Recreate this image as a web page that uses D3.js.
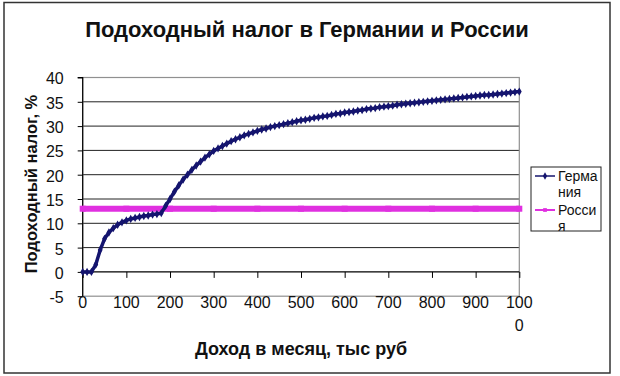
<!DOCTYPE html>
<html><head><meta charset="utf-8">
<script src="https://cdn.jsdelivr.net/npm/d3@7"></script>
<style>
body{margin:0;background:#fff;}
svg{display:block;font-family:"Liberation Sans",Arial,sans-serif;}
</style></head>
<body>
<svg id="chart" width="620" height="376"></svg>
<script>
const title = "Подоходный налог в Германии и России";
const xTitle = "Доход в месяц, тыс руб";
const yTitle = "Подоходный налог, %";
const seriesNames = [["Герма","ния"],["Росси","я"]];
const xTicks = [0,100,200,300,400,500,600,700,800,900,1000];
const yTicks = [-5,0,5,10,15,20,25,30,35,40];
// Income, thousand rubles per month
const income = [0,10,20,30,40,50,60,70,80,90,100,110,120,130,140,150,160,170,180,190,200,
 210,220,230,240,250,260,270,280,290,300,310,320,330,340,350,360,370,380,390,400,
 410,420,430,440,450,460,470,480,490,500,510,520,530,540,550,560,570,580,590,600,
 610,620,630,640,650,660,670,680,690,700,710,720,730,740,750,760,770,780,790,800,
 810,820,830,840,850,860,870,880,890,900,910,920,930,940,950,960,970,980,990,1000];
// Germany, tax %
const germany = [0,0,0,1.5,4.5,6.8,8.1,9.0,9.7,10.2,10.6,10.9,11.1,11.3,11.5,11.6,11.8,11.9,12.1,13.6,15.0,
 16.5,17.8,19.0,20.0,21.0,21.9,22.7,23.5,24.2,24.9,25.4,25.9,26.4,26.9,27.3,27.7,28.1,28.4,28.7,29.0,
 29.3,29.5,29.8,30.0,30.2,30.4,30.6,30.8,31.0,31.2,31.3,31.5,31.7,31.8,32.0,32.1,32.3,32.5,32.6,32.8,
 32.9,33.0,33.2,33.3,33.5,33.6,33.7,33.9,34.0,34.1,34.2,34.4,34.5,34.6,34.7,34.8,34.9,35.0,35.1,35.2,
 35.3,35.4,35.5,35.6,35.7,35.8,35.9,36.0,36.1,36.2,36.3,36.4,36.4,36.5,36.6,36.7,36.8,36.9,37.0,37.1];
// Russia, flat tax %
const russiaIncome = [0,100,200,300,400,500,600,700,800,900,1000];
const russia = [13,13,13,13,13,13,13,13,13,13,13];

const svg = d3.select("#chart");
const colG = "#14146e", colR = "#e030e0";

// outer border
svg.append("rect").attr("x",4).attr("y",2.5).attr("width",606).attr("height",370.5)
  .attr("fill","none").attr("stroke","#333").attr("stroke-width",1.5);

const x = d3.scaleLinear().domain([0,1000]).range([82.7,519.3]);
const y = d3.scaleLinear().domain([-5,40]).range([296.2,77.5]);

// gridlines
svg.append("g").selectAll("line").data(yTicks.filter(v=>v>0 && v<40)).join("line")
  .attr("x1",x(0)).attr("x2",x(1000)).attr("y1",d=>y(d)).attr("y2",d=>y(d))
  .attr("stroke","#222").attr("stroke-width",1);
// plot area border (gray)
svg.append("rect").attr("x",x(0)).attr("y",y(40)).attr("width",x(1000)-x(0)).attr("height",y(-5)-y(40))
  .attr("fill","none").attr("stroke","#909090").attr("stroke-width",1.2);

// y axis
const yAxis = d3.axisLeft(y).tickValues(yTicks).tickSize(5).tickPadding(14).tickFormat(d=>d);
const gy = svg.append("g").attr("transform",`translate(${x(0)},0)`).call(yAxis);
gy.select(".domain").attr("stroke","#000").attr("stroke-width",1.2).attr("d",`M-5,${y(40)}H0V${y(-5)}`);
gy.selectAll(".tick line").attr("stroke","#000");
gy.selectAll("text").attr("font-size",16).attr("fill","#111").attr("font-family","Liberation Sans, Arial, sans-serif").attr("dy","0.4em");

// x axis at y=0
const xAxis = d3.axisBottom(x).tickValues(xTicks).tickSize(6).tickFormat("");
const gx = svg.append("g").attr("transform",`translate(0,${y(0)})`).call(xAxis);
gx.select(".domain").attr("stroke","#000").attr("stroke-width",1.2).attr("d",`M${x(0)},0H${x(1000)}`);
gx.selectAll(".tick line").attr("stroke","#000");
// x tick labels at the bottom
const xl = svg.append("g").attr("font-size",16).attr("fill","#111").attr("text-anchor","middle");
xTicks.forEach(v=>{
  const s = String(v);
  if (s.length>3){
    xl.append("text").attr("x",x(v)).attr("y",308).text(s.slice(0,3));
    xl.append("text").attr("x",x(v)).attr("y",331).text(s.slice(3));
  } else {
    xl.append("text").attr("x",x(v)).attr("y",308).text(s);
  }
});

// Russia
const lineR = d3.line().x((d,i)=>x(russiaIncome[i])).y(d=>y(d));
svg.append("path").datum(russia).attr("d",lineR).attr("fill","none")
  .attr("stroke",colR).attr("stroke-width",6);
svg.append("g").selectAll("rect").data(russia).join("rect")
  .attr("x",(d,i)=>x(russiaIncome[i])-3).attr("y",d=>y(d)-3).attr("width",6).attr("height",6).attr("fill",colR);

// Germany
const lineG = d3.line().x((d,i)=>x(income[i])).y(d=>y(d));
svg.append("path").datum(germany).attr("d",lineG).attr("fill","none")
  .attr("stroke",colG).attr("stroke-width",3.5).attr("stroke-linejoin","round");
svg.append("g").selectAll("path").data(germany).join("path")
  .attr("transform",(d,i)=>`translate(${x(income[i])},${y(d)})`)
  .attr("d",d3.symbol(d3.symbolDiamond,20)).attr("fill",colG);

// titles
svg.append("text").attr("x",307).attr("y",37).attr("text-anchor","middle")
  .attr("font-size",22).attr("font-weight","bold").attr("fill","#111").text(title);
svg.append("text").attr("x",301).attr("y",355).attr("text-anchor","middle")
  .attr("font-size",18).attr("font-weight","bold").attr("fill","#111").text(xTitle);
svg.append("text").attr("transform","translate(37,184) rotate(-90)").attr("text-anchor","middle")
  .attr("font-size",16.5).attr("font-weight","bold").attr("fill","#111").text(yTitle);

// legend
const lg = svg.append("g");
lg.append("rect").attr("x",531).attr("y",167).attr("width",70).attr("height",64)
  .attr("fill","#fff").attr("stroke","#222").attr("stroke-width",1);
const rows = [{c:colG,y:176,w:1.5,sym:d3.symbolDiamond,s:16},{c:colR,y:210,w:2,sym:d3.symbolSquare,s:14}];
rows.forEach((r,i)=>{
  lg.append("line").attr("x1",535).attr("x2",555).attr("y1",r.y).attr("y2",r.y).attr("stroke",r.c).attr("stroke-width",r.w);
  lg.append("path").attr("transform",`translate(545,${r.y})`).attr("d",d3.symbol(r.sym,r.s)).attr("fill",r.c);
  lg.append("text").attr("x",558).attr("y",r.y+5).attr("font-size",14).attr("fill","#111").text(seriesNames[i][0]);
  lg.append("text").attr("x",558).attr("y",r.y+21).attr("font-size",14).attr("fill","#111").text(seriesNames[i][1]);
});
</script>
</body></html>
